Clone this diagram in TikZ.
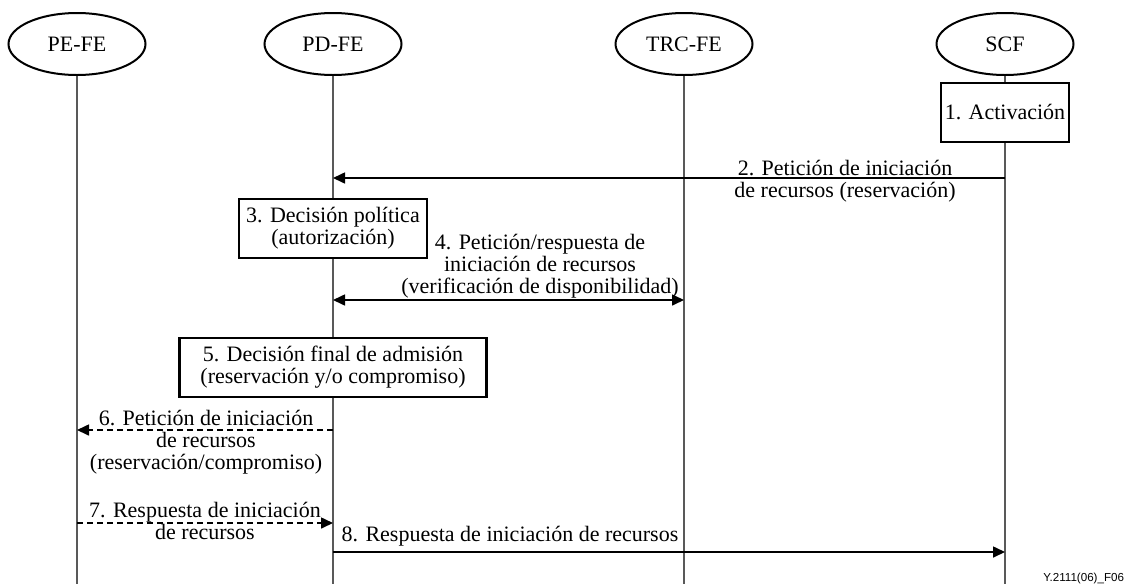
\documentclass[tikz,border=0pt]{standalone}
\usepackage{fontspec}
\setmainfont{Liberation Serif}
\newfontfamily\figsans{Liberation Sans}
\usetikzlibrary{arrows.meta,shapes.geometric}

\tikzset{
  entity/.style={draw, ellipse, line width=1pt, minimum width=68.5pt, minimum height=31pt, inner sep=0pt},
  lifeline/.style={draw=black!65, line width=0.6pt},
  actionbox/.style={draw, fill=white, line width=1.3pt, minimum height=29.5pt, inner sep=2pt, align=center},
  msg/.style={line width=0.8pt},
  msglabel/.style={align=center, inner sep=0pt},
}

\begin{document}
\begin{tikzpicture}[x=0.5pt, y=-0.5pt, >={Triangle[length=6pt, width=5.5pt]}, font=\fontsize{11}{11}\selectfont]
    \useasboundingbox (0,0) rectangle (1133,584);

    % Functional entities
    \node[entity] (pe) at (77, 44) {PE-FE};
    \node[entity] (pd) at (333, 44) {PD-FE};
    \node[entity] (trc) at (684, 44) {TRC-FE};
    \node[entity] (scf) at (1005, 44) {SCF};

    % Lifelines
    \coordinate (pe-end) at (77, 584);
    \coordinate (pd-end) at (333, 584);
    \coordinate (trc-end) at (684, 584);
    \coordinate (scf-end) at (1005, 584);
    \draw[lifeline] (pe) -- (pe-end);
    \draw[lifeline] (pd) -- (pd-end);
    \draw[lifeline] (trc) -- (trc-end);
    \draw[lifeline] (scf) -- (scf-end);

    % Actions on the lifelines
    \node[actionbox, minimum width=64pt] (act) at (1005, 112.5) {1. Activación};
    \node[actionbox, minimum width=94pt] (pol) at (333, 228.5) {3. Decisión política\\(autorización)};
    \node[actionbox, minimum width=153.5pt] (adm) at (333, 367.5) {5. Decisión final de admisión\\(reservación y/o compromiso)};

    % Message end points
    \coordinate (scf2) at (1005, 178);
    \coordinate (pd2) at (333, 178);
    \coordinate (pd4) at (333, 300);
    \coordinate (trc4) at (684, 300);
    \coordinate (pd6) at (333, 430);
    \coordinate (pe6) at (77, 430);
    \coordinate (pe7) at (77, 523);
    \coordinate (pd7) at (333, 523);
    \coordinate (pd8) at (333, 552);
    \coordinate (scf8) at (1005, 552);

    % Messages
    \draw[->, msg] (scf2) -- (pd2);
    \draw[<->, msg] (pd4) -- (trc4);
    \draw[->, msg, dash pattern=on 3pt off 2pt] (pd6) -- (pe6);
    \draw[->, msg, dash pattern=on 3pt off 2pt] (pe7) -- (pd7);
    \draw[->, msg] (pd8) -- (scf8);

    % Message labels
    \node[msglabel] (l2) at (845, 181) {2. Petición de iniciación\\de recursos (reservación)};
    \node[msglabel] (l4) at (540, 266) {4. Petición/respuesta de\\iniciación de recursos\\(verificación de disponibilidad)};
    \node[msglabel] (l6) at (206, 442) {6. Petición de iniciación\\de recursos\\(reservación/compromiso)};
    \node[msglabel] (l7) at (205, 521) {7. Respuesta de iniciación\\de recursos};
    \node[msglabel] (l8) at (510, 536) {8. Respuesta de iniciación de recursos};

    % Figure id
    \node[anchor=base west, inner sep=0pt, font=\figsans\fontsize{5.8}{6}\selectfont] (figid) at (1043, 581) {Y.2111(06)\_F06};
\end{tikzpicture}
\end{document}
